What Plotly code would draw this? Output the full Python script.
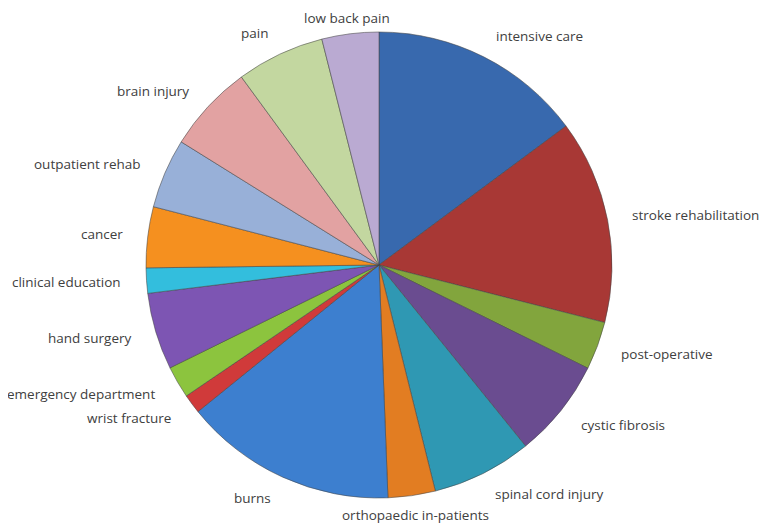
import numpy as np
import plotly.graph_objects as go

categories = ["intensive care", "stroke rehabilitation", "post-operative", "cystic fibrosis",
              "spinal cord injury", "orthopaedic in-patients", "burns", "wrist fracture",
              "emergency department", "hand surgery", "clinical education", "cancer",
              "outpatient rehab", "brain injury", "pain", "low back pain"]
values = [53.4, 50.9, 12.0, 24.7, 25.0, 11.8, 53.2, 4.8, 8.0, 19.2, 6.3, 15.2, 17.4, 21.9, 22.0, 14.2]
colors = ["#3869AE", "#A83835", "#82A53D", "#6A4C90", "#2F98B3", "#E27D22", "#3D7FCF", "#D03A3A",
          "#8CC43E", "#7D55B3", "#33BEDD", "#F5901F", "#98B0D8", "#E2A2A2", "#C3D7A0", "#BAAAD2"]

W, H = 769, 524
ML, MR, MT, MB = 0, 27, 24, 34
pw, ph = W - ML - MR, H - MT - MB
R = min(pw, ph) / 2.0
cx, cy = ML + pw / 2.0, MT + ph / 2.0

fig = go.Figure(go.Pie(
    labels=categories, values=values, sort=False, direction="clockwise", rotation=0,
    marker=dict(colors=colors, line=dict(color="rgba(70,70,70,0.55)", width=1)),
    textinfo="none", hoverinfo="label+percent",
    hole=0, showlegend=False,
))

vals = np.array(values, dtype=float)
cum = np.cumsum(vals)
mid = (cum - vals / 2.0) / vals.sum() * 2 * np.pi
annotations = []
for lab, a in zip(categories, mid):
    s, c = np.sin(a), np.cos(a)
    px = cx + 1.1 * R * s
    py = cy - 1.1 * R * c
    py = min(py, H - 17)
    py = max(py, 10)
    if s > 0.3:
        xa = "left"
    elif s < -0.3:
        xa = "right"
    else:
        xa = "center"
    annotations.append(dict(
        text=lab, x=(px - ML) / pw, y=1 - (py - MT) / ph, xref="paper", yref="paper",
        xanchor=xa, yanchor="middle", showarrow=False,
        font=dict(family="Open Sans", size=13.5, color="#404040"),
    ))

fig.update_layout(
    width=W, height=H,
    margin=dict(l=ML, r=MR, t=MT, b=MB),
    paper_bgcolor="white", plot_bgcolor="white",
    annotations=annotations,
)
fig.write_html("out.html")
